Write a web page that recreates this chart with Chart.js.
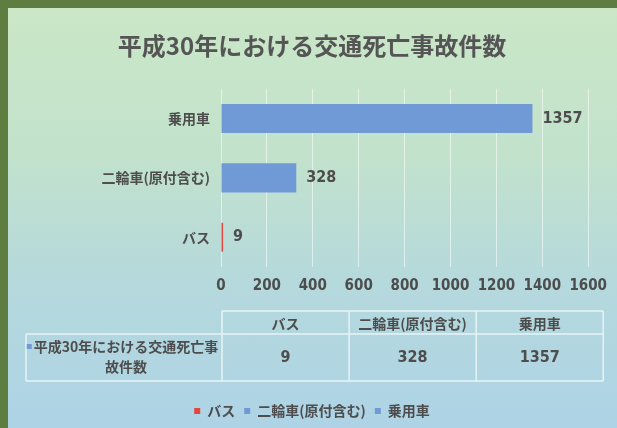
<!DOCTYPE html>
<html>
<head>
<meta charset="utf-8">
<script src="https://cdn.jsdelivr.net/npm/chart.js@4.4.1/dist/chart.umd.min.js"></script>
<style>
  html, body { margin: 0; padding: 0; }
  body { width: 617px; height: 428px; background: #5e7d40; overflow: hidden; position: relative; }
  #frame {
    position: absolute; left: 8px; top: 8px; width: 609px; height: 420px;
    background: linear-gradient(180deg, #cae7c6 0%, #c2e2cc 35%, #b5d9dc 65%, #aed3e6 100%);
  }
</style>
</head>
<body>
<div id="frame"><canvas id="chart" width="609" height="420"></canvas></div>
<script>
const categories = ['バス', '二輪車(原付含む)', '乗用車'];
const deaths = [9, 328, 1357];
const seriesName = '平成30年における交通死亡事故件数';
const chartTitle = '平成30年における交通死亡事故件数';
const barColors = ['#e2463c', '#709ad6', '#709ad6'];
const xMax = 1600;
const xStep = 200;

const FONT = "'Noto Sans CJK JP', 'Noto Sans', sans-serif";
const NUMFONT = "'DejaVu Sans Condensed', 'DejaVu Sans', sans-serif";
const TEXT = '#4d4d4d';

// bar value labels
const valueLabels = {
    id: 'valueLabels',
    afterDatasetsDraw(chart) {
        const ctx = chart.ctx;
        const meta = chart.getDatasetMeta(0);
        ctx.save();
        ctx.font = 'bold 16px ' + NUMFONT;
        ctx.fillStyle = TEXT;
        ctx.textBaseline = 'middle';
        ctx.textAlign = 'left';
        meta.data.forEach((bar, i) => {
            ctx.fillText(String(deaths[i]), bar.x + 10, bar.y);
        });
        ctx.restore();
    }
};

// data table under the axis
const dataTable = {
    id: 'dataTable',
    afterDraw(chart) {
        const ctx = chart.ctx;
        const area = chart.chartArea;
        const left = 18, mid = area.left + 1, right = area.right + 15;
        const top = area.bottom + 44, headH = 23, bodyH = 47;
        const colW = (right - mid) / categories.length;
        ctx.save();
        ctx.strokeStyle = 'rgba(240,248,248,0.85)';
        ctx.lineWidth = 1.5;
        ctx.beginPath();
        ctx.moveTo(mid, top); ctx.lineTo(right, top);
        ctx.moveTo(left, top + headH); ctx.lineTo(right, top + headH);
        ctx.moveTo(left, top + headH + bodyH); ctx.lineTo(right, top + headH + bodyH);
        ctx.moveTo(left, top + headH); ctx.lineTo(left, top + headH + bodyH);
        for (let i = 0; i <= categories.length; i++) {
            const x = mid + colW * i;
            ctx.moveTo(x, top); ctx.lineTo(x, top + headH + bodyH);
        }
        ctx.stroke();

        ctx.fillStyle = TEXT;
        ctx.textAlign = 'center';
        ctx.textBaseline = 'middle';
        ctx.font = 'bold 14px ' + FONT;
        categories.forEach((c, i) => {
            ctx.fillText(c, mid + colW * (i + 0.5), top + headH / 2 + 1);
        });
        ctx.font = 'bold 16px ' + NUMFONT;
        deaths.forEach((v, i) => {
            ctx.fillText(String(v), mid + colW * (i + 0.5), top + headH + bodyH / 2);
        });
        // series label, two lines
        ctx.font = 'bold 14px ' + FONT;
        const line1 = seriesName.slice(0, 14), line2 = seriesName.slice(14);
        const cx = (left + mid) / 2 + 2;
        ctx.fillText(line1, cx, top + headH + 13);
        ctx.fillText(line2, cx, top + headH + 33);
        const w1 = ctx.measureText(line1).width;
        ctx.fillStyle = '#709ad6';
        ctx.fillRect(cx - w1 / 2 - 7, top + headH + 10, 5, 5);
        ctx.restore();
    }
};

new Chart(document.getElementById('chart'), {
    type: 'bar',
    data: {
        labels: categories,
        datasets: [{
            label: seriesName,
            data: deaths,
            backgroundColor: barColors,
            borderWidth: 0,
            barPercentage: 0.98,
            categoryPercentage: 0.5
        }]
    },
    options: {
        indexAxis: 'y',
        responsive: false,
        animation: false,
        layout: { padding: { left: 27, right: 28, top: 0, bottom: 0 } },
        scales: {
            x: {
                min: 0, max: xMax,
                ticks: {
                    stepSize: xStep, color: TEXT, padding: 10,
                    maxRotation: 0, minRotation: 0, autoSkip: false,
                    callback: v => String(v),
                    font: { family: NUMFONT, size: 15, weight: 'bold' }
                },
                grid: { color: 'rgba(255,255,255,0.55)', drawTicks: false },
                border: { display: false },
                afterFit(scale) { scale.height = 128; }
            },
            y: {
                reverse: true,
                ticks: { color: TEXT, padding: 11, font: { family: FONT, size: 14, weight: 'bold' } },
                grid: { display: false, drawTicks: false },
                border: { display: false },
                afterFit(scale) { scale.width = 186; }
            }
        },
        plugins: {
            title: {
                display: true,
                text: chartTitle,
                color: '#555555',
                font: { family: FONT, size: 24, weight: 'bold' },
                padding: { top: 23, bottom: 29 }
            },
            legend: {
                position: 'bottom',
                labels: {
                    color: TEXT,
                    boxWidth: 6, boxHeight: 6,
                    padding: 9,
                    font: { family: FONT, size: 14, weight: 'bold' },
                    generateLabels() {
                        return categories.map((c, i) => ({
                            text: c, fillStyle: barColors[i], strokeStyle: barColors[i],
                            lineWidth: 0, hidden: false, index: i, fontColor: TEXT
                        }));
                    }
                }
            },
            tooltip: { enabled: false }
        }
    },
    plugins: [valueLabels, dataTable]
});
</script>
</body>
</html>
